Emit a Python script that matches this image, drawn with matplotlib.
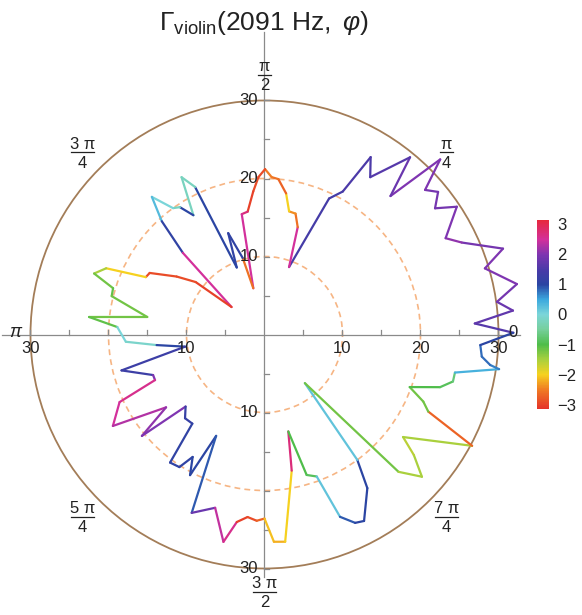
import numpy as np
import matplotlib
matplotlib.use("Agg")
import matplotlib.pyplot as plt
from matplotlib.collections import LineCollection
from matplotlib.colors import LinearSegmentedColormap, Normalize
from matplotlib.patches import Circle
from matplotlib.cm import ScalarMappable

plt.rcParams['font.family'] = ['Liberation Sans', 'DejaVu Sans']
plt.rcParams['mathtext.fontset'] = 'custom'
plt.rcParams['mathtext.rm'] = 'Liberation Sans'
plt.rcParams['mathtext.it'] = 'Liberation Sans:italic'
plt.rcParams['mathtext.bf'] = 'Liberation Sans:bold'

# Directivity samples: angle (deg), magnitude, phase (rad) of the segment leaving each sample
angle_deg = [0.4, 3.0, 5.5, 8.0, 11.3, 16.7, 19.8, 25.0, 28.0, 33.6, 36.5, 39.4, 42.0, 44.9,
             47.7, 50.6, 56.1, 59.1, 61.3, 64.6, 70.0, 72.8, 75.6, 78.7, 81.3, 84.9, 87.4,
             89.8, 92.2, 94.5, 97.8, 100.7, 103.6, 105.9, 109.7, 112.5, 115.2, 117.8, 120.8,
             123.6, 125.9, 129.3, 132.2, 135.0, 140.2, 142.7, 146.6, 151.8, 154.2, 157.3,
             160.3, 163.0, 165.9, 171.5, 174.3, 177.1, 183.0, 185.6, 188.7, 194.1, 200.0,
             202.6, 205.0, 211.1, 216.5, 219.6, 222.4, 226.5, 231.0, 233.6, 237.3, 239.6,
             242.1, 244.5, 247.8, 254.1, 258.8, 261.6, 264.7, 267.6, 270.0, 272.6, 275.7,
             281.3, 283.8, 286.7, 290.2, 292.5, 295.7, 298.1, 303.8, 306.5, 309.7, 314.3,
             317.9, 321.1, 323.5, 331.8, 334.8, 337.1, 340.1, 343.3, 346.0, 348.7, 351.6,
             352.3, 354.2, 357.2]
gamma = [31.9, 27.0, 32.0, 30.1, 33.0, 29.5, 32.5, 27.9, 26.3, 29.6, 27.2, 28.8, 27.7, 31.8,
         24.0, 29.4, 24.3, 26.5, 20.9, 19.3, 9.2, 14.4, 16.0, 16.1, 18.3, 20.0, 20.2,
         21.2, 20.2, 18.4, 15.9, 15.7, 6.1, 10.2, 13.8, 9.3, 20.9, 22.8, 17.8,
         19.6, 20.0, 22.8, 19.6, 14.8, 5.5, 11.1, 13.5, 16.7, 16.9, 22.0,
         23.2, 20.3, 20.2, 15.2, 22.6, 18.9, 17.8, 13.9, 10.3, 18.9, 15.2,
         15.2, 20.5, 22.7, 15.7, 20.4, 13.7, 14.8, 14.7, 20.4, 20.2, 18.2,
         20.4, 14.4, 24.7, 23.1, 27.1, 24.3, 23.5, 23.9, 23.6, 26.6, 26.7,
         17.8, 12.8, 18.8, 19.4, 25.3, 26.8, 27.1, 23.7, 20.0, 8.1, 24.6,
         27.2, 24.6, 22.1, 30.2, 23.2, 22.1, 19.8, 23.5, 24.9, 24.9, 30.4,
         29.2, 28.0, 27.7]
phase = [1.6, 1.7, 1.8, 1.9, 2.0, 2.0, 1.9, 2.1, 2.0, 1.9, 1.9, 1.9, 2.0, 2.0,
         1.8, 1.6, 1.5, 1.5, 1.4, 1.4, 2.5, -2.6, -2.4, -2.0, -2.7, -2.6, -2.5,
         -2.9, -2.9, -3.0, 2.7, 2.5, -2.6, 1.1, 1.1, 1.0, -0.2, -0.2, 1.0,
         -0.2, 0.0, 0.3, 1.1, 2.5, -3.0, -2.9, -2.9, -2.9, -2.0, -1.5,
         -1.2, -1.1, -1.2, -1.2, -1.1, 0.0, -0.1, 1.0, 1.3, 1.3, 2.0,
         2.6, 2.5, 2.3, 2.1, 2.0, 1.2, 1.2, 1.1, 1.1, 1.1, 1.0,
         1.0, 0.9, 1.8, 2.4, 2.6, -3.0, -2.9, -2.7, -2.1, -2.2, -2.0,
         2.7, -1.0, -0.9, 0.2, 0.9, 1.0, 1.0, 1.0, 0.2, -1.2, -1.5,
         -1.5, -1.6, -1.5, -2.7, -1.2, -1.2, -1.0, -0.9, -0.7, 0.4, 0.7,
         0.8, 0.8, 1.0]

x_ticklabels = [-30, -10, 10, 20, 30]
y_ticklabels = [30, 20, 10, -10, -30]
cbar_ticks = [-3, -2, -1, 0, 1, 2, 3]

# Cyclic phase colour scale (red at -pi and +pi)
anchors = [(-np.pi, '#e5332a'), (-2.5, '#f07c23'), (-2.0, '#f6d21f'), (-1.5, '#a8d03e'),
           (-1.0, '#4fbd4a'), (-0.5, '#76cf9c'), (0.0, '#7cd6d9'), (0.5, '#3ba8de'),
           (1.0, '#2b45a3'), (1.5, '#4a3aa8'), (2.0, '#7e35b1'), (2.5, '#d3309b'),
           (np.pi, '#e7283c')]
cmap = LinearSegmentedColormap.from_list(
    'phase', [((v + np.pi) / (2 * np.pi), c) for v, c in anchors])
norm = Normalize(-np.pi, np.pi)

# Figure geometry (pixels)
W, H = 582, 615
CX, CY = 264.5, 334.5
S = 7.8
AX_W = 530

fig = plt.figure(figsize=(W / 100, H / 100), dpi=100)
ax = fig.add_axes([0, 0, AX_W / W, 1])
ax.set_xlim(-CX / S, (AX_W - CX) / S)
ax.set_ylim((CY - H) / S, CY / S)
ax.axis('off')

# Reference circles
for rr in (10, 20):
    ax.add_patch(Circle((0, 0), rr, fill=False, ec='#f6b584', lw=1.2,
                        ls=(0, (3.5, 2.5)), zorder=1))
ax.add_patch(Circle((0, 0), 30, fill=False, ec='#a37d58', lw=1.3, zorder=1))

# Axes through the origin with ticks
axis_col = '#8a8a8a'
ax.plot([(2 - CX) / S, (520 - CX) / S], [0, 0], color=axis_col, lw=0.9, zorder=2)
ax.plot([0, 0], [(CY - 577) / S, (CY - 32) / S], color=axis_col, lw=0.9, zorder=2)
tl = 5 / S
for t in range(-30, 31, 5):
    if t == 0:
        continue
    ax.plot([t, t], [0, tl], color=axis_col, lw=0.9, zorder=2)
    ax.plot([0, tl], [t, t], color=axis_col, lw=0.9, zorder=2)

for t in x_ticklabels:
    ax.annotate(str(abs(t)), (t, 0), xytext=(0, -4.5), textcoords='offset points',
                ha='center', va='top', fontsize=12, color='#222222', zorder=5)
for t in y_ticklabels:
    ax.annotate(str(abs(t)), (0, t), xytext=(-4.5, 0), textcoords='offset points',
                ha='right', va='center', fontsize=12, color='#222222', zorder=5)

# Directivity curve, one colour per segment
th = np.deg2rad(angle_deg)
rv = np.asarray(gamma)
xs = rv * np.cos(th)
ys = rv * np.sin(th)
pts = np.column_stack([xs, ys])
segs = [[pts[i], pts[(i + 1) % len(pts)]] for i in range(len(pts))]
lc = LineCollection(segs, colors=cmap(norm(np.asarray(phase))), linewidths=1.6,
                    capstyle='round', joinstyle='round', zorder=4)
ax.add_collection(lc)

# Angle labels
def frac_label(theta, num, den, r=33.0, half=1.5):
    x, y = r * np.cos(theta), r * np.sin(theta)
    ax.annotate(num, (x, y), xytext=(0, 0.5), textcoords='offset points',
                ha='center', va='bottom', fontsize=12, color='#222222', zorder=5)
    ax.annotate(den, (x, y), xytext=(0, -2.5), textcoords='offset points',
                ha='center', va='top', fontsize=12, color='#222222', zorder=5)
    ax.plot([x - half, x + half], [y, y], color='#222222', lw=0.9, zorder=5)

frac_label(np.pi / 4, 'π', '4', half=0.8)
frac_label(np.pi / 2, 'π', '2', r=33.3, half=0.8)
frac_label(3 * np.pi / 4, '3 π', '4')
frac_label(5 * np.pi / 4, '5 π', '4')
frac_label(3 * np.pi / 2, '3 π', '2')
frac_label(7 * np.pi / 4, '7 π', '4')
ax.text(31.8, 0.3, '0', ha='center', va='center', fontsize=12, color='#222222', zorder=5)
ax.text(-32.0, 0.3, 'π', ha='center', va='center', fontsize=13, color='#222222',
        style='italic', zorder=5)

# Title
fig.text(CX / W, 1 - 30 / H, r'$\Gamma_{\mathrm{violin}}\mathrm{(2091\ Hz,\ }\varphi\mathrm{)}$',
         ha='center', va='baseline', fontsize=19, color='#222222')

# Colour legend
cax = fig.add_axes([536.5 / W, (H - 409) / H, 12.5 / W, 189 / H])
cb = fig.colorbar(ScalarMappable(norm=norm, cmap=cmap), cax=cax, ticks=cbar_ticks)
cb.outline.set_visible(False)
cax.tick_params(length=0, pad=6, labelsize=12, colors='#222222')

fig.savefig('out.png', dpi=100)
